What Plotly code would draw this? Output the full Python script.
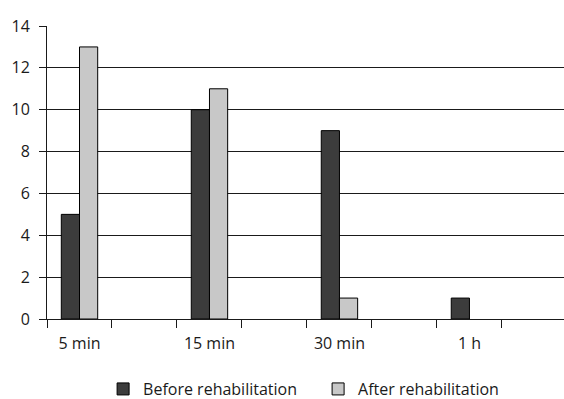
import plotly.graph_objects as go

# Time slots shown on the x-axis (empty slots between them keep the spacing)
time_labels = ["5 min", "15 min", "30 min", "1 h"]
slot_index = [0, 2, 4, 6]          # position of each labelled slot
before_rehab = [5, 10, 9, 1]
after_rehab = [13, 11, 1, 0]

y_ticks = [0, 2, 4, 6, 8, 10, 12, 14]

x_centers = [i + 0.5 for i in slot_index]

FONT = dict(family="Open Sans", size=16, color="#1a1a1a")


def outline(values):
    # no outline on empty bars so nothing is drawn over the axis line
    return [1 if v > 0 else 0 for v in values]


fig = go.Figure()
fig.add_trace(go.Bar(
    x=x_centers, y=before_rehab, name="Before rehabilitation",
    marker=dict(color="#3c3c3c", line=dict(color="#000000", width=outline(before_rehab))),
))
fig.add_trace(go.Bar(
    x=x_centers, y=after_rehab, name="After rehabilitation",
    marker=dict(color="#c8c8c8", line=dict(color="#000000", width=outline(after_rehab))),
))

fig.update_layout(
    width=564, height=399,
    margin=dict(l=47, r=0, t=26, b=80),
    paper_bgcolor="white", plot_bgcolor="white",
    barmode="group", bargap=0.72, bargroupgap=0,
    font=FONT,
    showlegend=True,
    legend=dict(
        orientation="h", xref="container", yref="container",
        x=0.564, xanchor="center", y=0.025, yanchor="middle",
        font=FONT, tracegroupgap=0, entrywidth=170, entrywidthmode="pixels",
    ),
    xaxis=dict(
        range=[0, 7.955], tickmode="array", tickvals=x_centers, ticktext=time_labels,
        ticks="", showgrid=False, zeroline=False,
        showline=True, linecolor="#1a1a1a", linewidth=1,
        ticklabelstandoff=10,
        minor=dict(tick0=0, dtick=1, ticks="outside", ticklen=8,
                   tickcolor="#1a1a1a", tickwidth=1, showgrid=False),
    ),
    yaxis=dict(
        range=[0, 14], tickmode="array", tickvals=y_ticks,
        ticks="outside", ticklen=7, tickcolor="#1a1a1a", tickwidth=1,
        showline=True, linecolor="#1a1a1a", linewidth=1,
        showgrid=True, gridcolor="#1a1a1a", gridwidth=1,
        zeroline=False, ticklabelstandoff=6,
    ),
)

fig.write_html("out.html")
